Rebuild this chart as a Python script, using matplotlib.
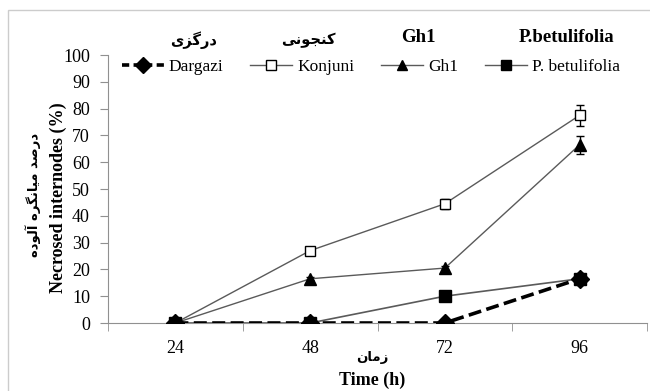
import matplotlib as mpl
mpl.use('Agg')
import matplotlib.pyplot as plt
from matplotlib.patches import Rectangle
from matplotlib.lines import Line2D

# data
times = ["24", "48", "72", "96"]
dargazi = [0, 0, 0, 16.5]
konjuni = [0, 27, 44.5, 77.5]
konjuni_err = [0, 0.8, 1.8, 4.0]
gh1 = [0, 16.5, 20.5, 66.5]
gh1_err = [0, 0.5, 0.8, 3.3]
betulifolia = [0, 0, 10, 16.5]
betulifolia_err = [0, 0, 0.5, 0.8]

# persian texts (pre-shaped, visual order)
fa_dargazi = "\uFBFC\uFEB0\uFB94\uFEAD\uFEA9"
fa_konjuni = "\uFBFD\uFEE7\uFEEE\uFEA0\uFEE8\uFB90"
fa_ylabel = ("\uFEE9\uFEA9\uFEEE\uFEDF\uFE81" + " " +
             "\uFEE9\uFEAE\uFB95\uFEE7\uFE8E\uFBFF\uFEE3" + " " +
             "\uFEAA\uFEBB\uFEAD\uFEA9")
fa_xlabel = "\uFEE5\uFE8E\uFEE3\uFEAF"

plt.rcParams['font.family'] = ['Liberation Serif', 'DejaVu Sans']
plt.rcParams['font.size'] = 13

W, H = 650, 391
fig = plt.figure(figsize=(6.5, 3.91), dpi=100)
ax = fig.add_axes([108 / W, 1 - 323 / H, 539 / W, 268 / H])

x = range(len(times))
line_col = "#5a5a5a"

ax.errorbar(x, konjuni, yerr=konjuni_err, color=line_col, lw=1, marker='s',
            markersize=7, markerfacecolor='white', markeredgecolor='black',
            markeredgewidth=1, ecolor='black', elinewidth=1, capsize=3, zorder=3)
ax.errorbar(x, gh1, yerr=gh1_err, color=line_col, lw=1, marker='^',
            markersize=8, markerfacecolor='black', markeredgecolor='black',
            ecolor='black', elinewidth=1, capsize=3, zorder=3)
ax.errorbar(x, betulifolia, yerr=betulifolia_err, color=line_col, lw=1.2, marker='s',
            markersize=8, markerfacecolor='black', markeredgecolor='black',
            ecolor='black', elinewidth=1, capsize=2, zorder=4)
ax.plot(x, dargazi, color='black', lw=2.6, ls=(0, (3.6, 1.5)), marker='D',
        markersize=9, markerfacecolor='black', markeredgecolor='black', zorder=5)

ax.set_xlim(-0.5, 3.5)
ax.set_ylim(0, 100)
ax.set_yticks(range(0, 101, 10))
ax.set_xticks(list(x))
ax.set_xticklabels(times)
ax.set_xticks([-0.5, 0.5, 1.5, 2.5, 3.5], minor=True)
ax.tick_params(axis='x', which='major', length=0, pad=12)
ax.tick_params(axis='x', which='minor', length=6, direction='out', color='#909090')
ax.tick_params(axis='y', length=6, direction='out', color='#909090', pad=7)
for s in ['top', 'right']:
    ax.spines[s].set_visible(False)
ax.spines['left'].set_color('#909090')
ax.spines['bottom'].set_color('#909090')

# legend
handles = [
    Line2D([], [], color='black', lw=2.6, ls=(0, (2, 1.2)), marker='D', markersize=8),
    Line2D([], [], color=line_col, lw=1, marker='s', markersize=6.5,
           markerfacecolor='white', markeredgecolor='black'),
    Line2D([], [], color=line_col, lw=1, marker='^', markersize=7,
           markerfacecolor='black', markeredgecolor='black'),
    Line2D([], [], color=line_col, lw=1, marker='s', markersize=7,
           markerfacecolor='black', markeredgecolor='black'),
]
labels = ["Dargazi", "Konjuni", "Gh1", "P. betulifolia"]
fig.legend(handles, labels, ncol=4, frameon=False, loc='center',
           bbox_to_anchor=(371 / W, 1 - 67 / H), handlelength=2.4,
           handletextpad=0.3, columnspacing=1.55, fontsize=12.5,
           borderpad=0, borderaxespad=0)

# persian/latin titles above legend entries
titles = [(fa_dargazi, 194, True), (fa_konjuni, 308, True),
          ("Gh1", 418, False), ("P.betulifolia", 567, False)]
for txt, xc, is_fa in titles:
    if is_fa:
        fig.text(xc / W, 1 - 40 / H, txt, ha='center', va='center',
                 fontweight='bold', fontsize=10.5, family=['DejaVu Sans'])
    else:
        fig.text(xc / W, 1 - 37 / H, txt, ha='center', va='center',
                 fontweight='bold', fontsize=13.5)

# axis labels
fig.text(33 / W, 1 - 195 / H, fa_ylabel, rotation=90, ha='center', va='center',
         fontweight='bold', fontsize=9.5, family=['DejaVu Sans'])
fig.text(58 / W, 1 - 198 / H, "Necrosed internodes (%)", rotation=90, ha='center',
         va='center', fontweight='bold', fontsize=13)
fig.text(372 / W, 1 - 357 / H, fa_xlabel, ha='center', va='center',
         fontweight='bold', fontsize=9.5, family=['DejaVu Sans'])
fig.text(372 / W, 1 - 380 / H, "Time (h)", ha='center', va='center',
         fontweight='bold', fontsize=13)

# outer frame (left and top edges visible)
fig.patches.append(Rectangle((8 / W, -0.1), 1.2, 1 - 10 / H + 0.1,
                             transform=fig.transFigure, fill=False,
                             edgecolor='#cccccc', lw=1))

fig.savefig("out.png", dpi=100)
